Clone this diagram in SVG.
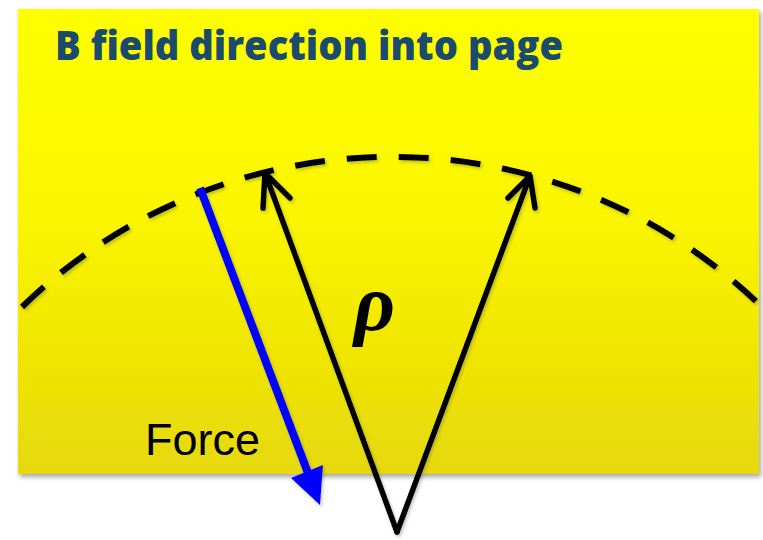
<svg xmlns="http://www.w3.org/2000/svg" width="763" height="540" viewBox="0 0 763 540">
<defs>
<linearGradient id="bg" x1="0" y1="0" x2="0" y2="1">
<stop offset="0" stop-color="#FFFF00"/>
<stop offset="0.45" stop-color="#FAF500"/>
<stop offset="1" stop-color="#E6D809"/>
</linearGradient>
<filter id="sh" x="-10%" y="-10%" width="120%" height="120%">
<feDropShadow dx="2" dy="3" stdDeviation="2.5" flood-color="#000" flood-opacity="0.35"/>
</filter>
<filter id="ls" x="-20%" y="-20%" width="140%" height="140%">
<feDropShadow dx="1.5" dy="2" stdDeviation="1.5" flood-color="#555" flood-opacity="0.35"/>
</filter>
</defs>
<style>
.title{font-family:"Open Sans","Liberation Sans",sans-serif;font-weight:800;font-size:40px;fill:#1B4B6C}
.force{font-family:"Liberation Sans",Arial,sans-serif;font-size:45px;fill:#000}
.rho{font-family:"Liberation Serif","DejaVu Serif",serif;font-style:italic;font-weight:bold;font-size:80px;fill:#000}
.arc{fill:none;stroke:#000;stroke-width:6;stroke-dasharray:30 22}
.blk{fill:none;stroke:#000;stroke-width:5.5;stroke-linecap:round;stroke-linejoin:round}
</style>
<rect width="763" height="540" fill="#FFFFFF"/>
<g id="background">
<rect x="18" y="9" width="741" height="465" fill="url(#bg)" filter="url(#sh)"/>
</g>
<g id="title">
<text class="title" x="55" y="60" textLength="508" lengthAdjust="spacingAndGlyphs">B field direction into page</text>
</g>
<g id="connectors" filter="url(#ls)">
<path class="arc" d="M 22 307 A 531 531 0 0 1 760 305"/>
<path class="blk" d="M 397 532 L 265 173 M 263 208 L 265 173 L 290 198"/>
<path class="blk" d="M 397 532 L 530 176 M 508 198 L 530 176 L 535 208"/>
<line x1="200" y1="188" x2="308" y2="473" stroke="#0000FF" stroke-width="8"/>
<polygon points="291,478 323,465 320,505" fill="#0000FF"/>
</g>
<g id="labels">
<text class="force" x="145" y="455">Force</text>
<text class="rho" x="354" y="330">ρ</text>
</g>
</svg>
